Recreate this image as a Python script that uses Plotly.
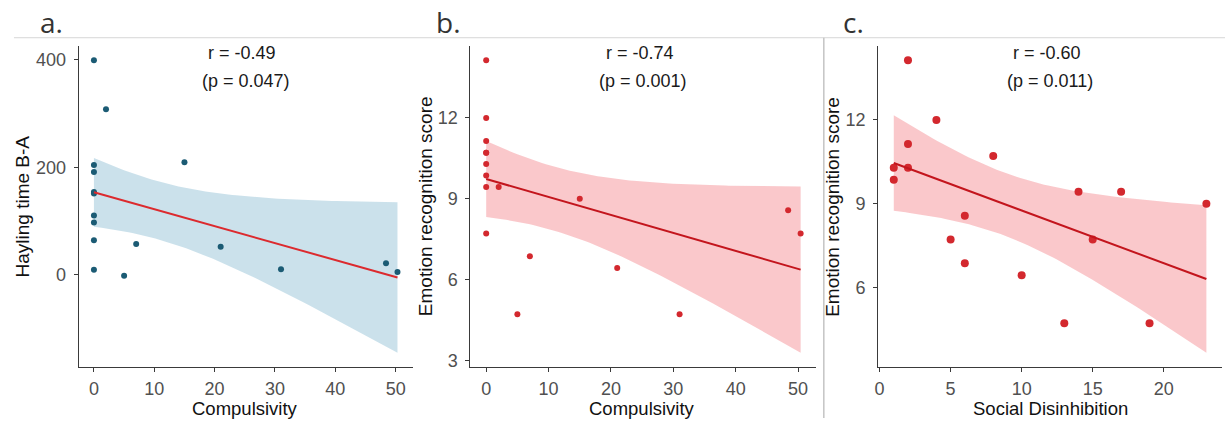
import numpy as np
import plotly.graph_objects as go

# ---------------- data ----------------
comp_a = [0, 0, 0, 0, 0, 0, 0, 0, 0, 2, 5, 7, 15, 21, 31, 48.4, 50.3]
hayling_a = [399, 204, 191, 154, 151, 110, 97, 64, 9, 308, -2, 57, 209, 52, 10, 21, 5]

comp_b = [0, 0, 0, 0, 0, 0, 0, 0, 0, 2, 5, 7, 15, 21, 31, 48.4, 50.4]
emo_b = [14.14, 12.0, 11.14, 10.71, 10.71, 10.29, 9.86, 9.43, 7.71,
         9.43, 4.71, 6.86, 9.0, 6.43, 4.71, 8.57, 7.71]

social_c = [2, 4, 2, 1, 2, 1, 8, 14, 17, 23, 6, 5, 15, 6, 10, 13, 19]
emo_c = [14.14, 12.0, 11.14, 10.29, 10.29, 9.86, 10.71, 9.43, 9.43, 9.0,
         8.57, 7.71, 7.71, 6.86, 6.43, 4.71, 4.71]

stats_r = ["r = -0.49", "r = -0.74", "r = -0.60"]
stats_p = ["(p = 0.047)", "(p = 0.001)", "(p = 0.011)"]
panel_labels = ["a.", "b.", "c."]
x_titles = ["Compulsivity", "Compulsivity", "Social Disinhibition"]
y_titles = ["Hayling time B-A", "Emotion recognition score", "Emotion recognition score"]
x_ticks = [[0, 10, 20, 30, 40, 50], [0, 10, 20, 30, 40, 50], [0, 5, 10, 15, 20]]
y_ticks = [[0, 200, 400], [3, 6, 9, 12], [6, 9, 12]]

T975 = 2.1314  # t quantile, df = n - 2 = 15


def lm_band(x, y, n=80):
    x = np.asarray(x, float)
    y = np.asarray(y, float)
    b1, b0 = np.polyfit(x, y, 1)
    resid = y - (b0 + b1 * x)
    s = np.sqrt((resid ** 2).sum() / (len(x) - 2))
    xm = x.mean()
    sxx = ((x - xm) ** 2).sum()
    xs = np.linspace(x.min(), x.max(), n)
    yh = b0 + b1 * xs
    se = s * np.sqrt(1.0 / len(x) + (xs - xm) ** 2 / sxx)
    return xs, yh, yh - T975 * se, yh + T975 * se


def expand(lo, hi, f=0.05):
    d = (hi - lo) * f
    return [lo - d, hi + d]


W, H = 1225, 421
# pixel geometry of the three panels
px_left = [75, 468, 877]
px_right = [410, 815, 1222]
px_top, px_bottom = 46, 370

styles = [
    dict(pt="#1b5b74", band="rgba(160,200,218,0.55)", line="#dc2a2e", size=6),
    dict(pt="#d3282e", band="rgba(248,170,175,0.65)", line="#c3151d", size=6),
    dict(pt="#d3282e", band="rgba(248,170,175,0.65)", line="#c3151d", size=8),
]

series = [(comp_a, hayling_a), (comp_b, emo_b), (social_c, emo_c)]

fig = go.Figure()
FONT = "Liberation Sans, Arial, sans-serif"
layout_axes = {}
annotations = []

for i, ((xv, yv), st) in enumerate(zip(series, styles)):
    xs, yh, lo, hi = lm_band(xv, yv)
    ax = "" if i == 0 else str(i + 1)
    xr, yr = "x" + ax, "y" + ax
    fig.add_trace(go.Scatter(
        x=list(xs) + list(xs[::-1]), y=list(hi) + list(lo[::-1]),
        fill="toself", fillcolor=st["band"], line=dict(width=0),
        mode="lines", hoverinfo="skip", showlegend=False, xaxis=xr, yaxis=yr))
    fig.add_trace(go.Scatter(
        x=xv, y=yv, mode="markers",
        marker=dict(color=st["pt"], size=st["size"], line=dict(width=0)),
        showlegend=False, xaxis=xr, yaxis=yr))
    fig.add_trace(go.Scatter(
        x=xs, y=yh, mode="lines", line=dict(color=st["line"], width=2),
        showlegend=False, xaxis=xr, yaxis=yr))

    xrange = expand(min(xv), max(xv))
    yrange = expand(min(min(yv), lo.min()), max(max(yv), hi.max()))

    common = dict(showline=True, linecolor="#3a3a3a", linewidth=1.2,
                  ticks="outside", ticklen=4, tickcolor="#3a3a3a", tickwidth=1.2,
                  showgrid=False, zeroline=False,
                  tickfont=dict(family=FONT, size=18, color="#505050"))
    layout_axes["xaxis" + ax] = dict(
        domain=[px_left[i] / W, px_right[i] / W], range=xrange,
        tickvals=x_ticks[i], anchor=yr, ticklabelstandoff=1, **common)
    layout_axes["yaxis" + ax] = dict(
        domain=[(H - px_bottom) / H, (H - px_top) / H], range=yrange,
        tickvals=y_ticks[i], anchor=xr, ticklabelstandoff=4, **common)

    # r / p annotations
    annotations.append(dict(text=stats_r[i], xref=xr + " domain", yref=yr + " domain",
                            x=0.49, y=(px_bottom - 53) / (px_bottom - px_top),
                            showarrow=False, xanchor="center", yanchor="middle",
                            font=dict(family=FONT, size=18, color="#1a1a1a")))
    annotations.append(dict(text=stats_p[i], xref=xr + " domain", yref=yr + " domain",
                            x=0.50, y=(px_bottom - 82) / (px_bottom - px_top),
                            showarrow=False, xanchor="center", yanchor="middle",
                            font=dict(family=FONT, size=18, color="#1a1a1a")))

x_title_cx = [242, 640, 1050]
y_title_cx = [19, 423, 831]
label_x = [34, 431, 840]
for i in range(3):
    annotations.append(dict(text=x_titles[i], xref="paper", yref="paper",
                            x=x_title_cx[i] / W, y=(H - 411) / H, showarrow=False,
                            xanchor="center", yanchor="middle",
                            font=dict(family=FONT, size=18.5, color="#111111")))
    annotations.append(dict(text=y_titles[i], xref="paper", yref="paper",
                            x=y_title_cx[i] / W, y=(H - 208) / H, showarrow=False,
                            textangle=-90, xanchor="center", yanchor="middle",
                            font=dict(family=FONT, size=19, color="#111111")))
    annotations.append(dict(text=panel_labels[i], xref="paper", yref="paper",
                            x=label_x[i] / W, y=(H - 22) / H, showarrow=False,
                            xanchor="left", yanchor="middle",
                            font=dict(family="Open Sans, sans-serif", size=28, color="#333333")))

shapes = [
    dict(type="line", xref="paper", yref="paper", x0=10 / W, x1=1, y0=(H - 38) / H, y1=(H - 38) / H,
         line=dict(color="#d6d6d6", width=1)),
    dict(type="line", xref="paper", yref="paper", x0=822.5 / W, x1=822.5 / W, y0=0, y1=(H - 38) / H,
         line=dict(color="#c4c4c4", width=1.5)),
]

fig.update_layout(width=W, height=H, margin=dict(l=0, r=0, t=0, b=0),
                  paper_bgcolor="white", plot_bgcolor="white",
                  annotations=annotations, shapes=shapes, **layout_axes)

fig.write_html("out.html", config={"displayModeBar": False},
               post_script="document.body.style.margin='0';document.body.style.overflow='hidden';")
